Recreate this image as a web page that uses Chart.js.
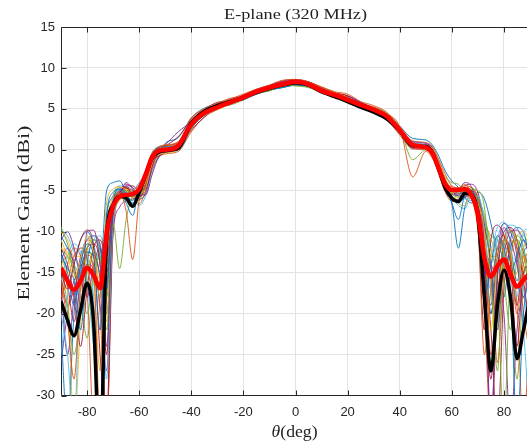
<!DOCTYPE html>
<html>
<head>
<meta charset="utf-8">
<script src="https://cdn.jsdelivr.net/npm/chart.js@4"></script>
<style>
  html, body { margin: 0; padding: 0; background: #fff; overflow: hidden; }
  canvas { display: block; }
</style>
</head>
<body>
<canvas id="chart" width="531" height="445"></canvas>
<script>
// Angles (deg) shared by every curve
const angles = [-90,-87.5,-85,-82.5,-80,-77.5,-75,-72.5,-70,-67.5,-65,-62.5,-60,-57.5,-55,-52.5,-50,
  -45,-40,-35,-30,-25,-20,-15,-10,-5,0,5,10,15,20,25,30,35,40,45,
  50,52.5,55,57.5,60,62.5,65,67.5,70,72.5,75,77.5,80,82.5,85,87.5,90];
const xTicks = [-80,-60,-40,-20,0,20,40,60,80];
const yTicks = [-30,-25,-20,-15,-10,-5,0,5,10,15];

// Thick red curve (average) and thick black curve
const meanGain = [-14.4,-16.0,-17.1,-16.0,-14.4,-15.3,-16.9,-10.2,-6.9,-5.7,-5.5,-5.4,-4.8,-3.0,-0.9,-0.1,0.0,
  0.5,3.1,4.5,5.2,5.8,6.4,7.1,7.6,8.0,8.3,8.0,7.2,6.7,6.1,5.5,4.9,4.1,2.4,0.6,
  0.3,-0.4,-2.3,-4.2,-4.9,-4.9,-4.8,-5.5,-7.8,-13.2,-15.5,-14.2,-13.4,-15.2,-16.7,-15.9,-15.0];
const simGain = [-18.5,-20.8,-22.7,-19.6,-16.3,-21.0,-38.0,-10.8,-6.7,-5.7,-5.9,-6.9,-5.2,-3.1,-1.0,-0.3,-0.1,
  0.2,3.3,4.7,5.4,5.9,6.4,7.0,7.5,7.9,8.2,7.9,7.1,6.5,5.9,5.2,4.6,3.8,2.3,0.5,
  0.4,-0.3,-2.4,-4.7,-5.9,-6.3,-5.3,-5.5,-8.0,-18.0,-27.0,-19.0,-14.7,-18.0,-25.5,-22.0,-18.0];

// Thin curves, one per element
const el01 = [-12.5,-15,-19,-14,-11.5,-13,-22,-8,-5.2,-4.8,-6.5,-8,-4.5,-3,-0.5,0.2,0.1,
  0.0,2.6,4.3,5.0,5.9,6.1,7.3,7.4,8.1,8.0,7.8,7.3,6.4,6.0,5.7,4.6,3.8,2.0,0.3,
  0.4,-0.6,-2.8,-4.5,-6.5,-8.5,-5.5,-5.0,-8,-18,-14,-10.5,-12,-15,-13,-11,-12.5];
const el02 = [-16,-21,-28,-17,-12.8,-14.5,-33,-12,-6.3,-5.4,-7.5,-13.4,-6,-3.5,-1.2,0.3,0.5,
  0.8,3.8,4.9,5.6,6.2,6.8,7.4,7.9,8.5,8.6,8.3,7.6,7.0,6.4,5.6,5.2,4.4,2.8,-3.3,
  -0.2,-1.0,-2.5,-4.0,-4.5,-4.8,-4.2,-5.5,-9,-25,-17,-12,-10.5,-13,-20,-14,-12];
const el03 = [-11,-13,-15.5,-13.5,-10.5,-12.5,-18,-6.5,-4.8,-4.5,-4.9,-5.8,-5.5,-4.6,-1.5,-0.5,-0.4,
  0.1,2.5,4.6,5.0,5.6,6.3,6.9,7.5,7.8,8.2,8.1,7.4,6.9,6.4,5.4,5.1,4.3,2.5,0.8,
  0.5,0.2,-1.5,-3.5,-5.0,-6.5,-6.8,-5.2,-6.5,-10,-22,-13.5,-11,-12.5,-17,-12,-11];
const el04 = [-13.5,-12,-14,-19,-10,-9.8,-14,-24,-7.5,-5.5,-4,-4.8,-6,-5.3,-2,-0.2,0.6,
  2.2,3.4,4.7,5.6,5.9,6.6,7.0,7.8,8.3,8.5,8.2,7.5,6.6,6.5,5.8,5.0,4.2,2.6,1.0,
  0.8,0.0,-2.0,-4.5,-5.5,-5.0,-4.0,-4.5,-7.0,-12,-34,-16,-9.5,-11,-14,-18,-13];
const el05 = [-9.4,-11.5,-15,-16,-12,-11,-13,-20,-9,-14.5,-8.5,-5.5,-4.8,-3.8,-1.0,0.0,0.2,
  0.3,2.9,4.2,5.3,5.5,6.1,6.9,7.2,7.9,7.8,7.6,7.0,6.6,6.2,5.6,5.2,4.5,2.6,-1.2,
  0.0,-0.5,-2.0,-3.3,-4.0,-4.2,-5.0,-4.8,-5.0,-7.0,-16,-27,-12,-10,-11,-14,-16];
const el06 = [-20,-25,-34,-14,-11,-10.5,-13,-28,-9,-6.0,-5.5,-5.0,-4.0,-2.8,-0.4,0.1,-0.2,
  0.2,3.2,4.5,5.4,6.1,6.6,7.2,7.6,7.9,8.1,7.7,7.0,6.8,6.1,5.3,5.0,4.3,2.5,0.9,
  0.6,0.1,-1.8,-3.8,-4.8,-5.5,-6.0,-6.2,-5.6,-8.5,-12,-9.5,-8.8,-11.5,-18,-10,-9.6];
const el07 = [-15,-17,-14,-11,-9.8,-12,-25,-33,-8,-5.2,-4.6,-5.5,-5.8,-4.4,-1.4,-0.8,-0.3,
  0.2,2.4,4.0,5.3,5.7,6.4,7.3,7.7,8.2,8.3,8.1,7.3,6.5,6.3,5.5,4.8,4.0,2.1,0.2,
  0.2,-0.3,-2.6,-4.5,-5.8,-6.2,-5.6,-5.0,-9.5,-22,-11,-9.2,-10.5,-14,-24,-15,-14];
const el08 = [-13,-14.5,-16,-22,-14,-11,-12,-17,-6.5,-4.8,-5.3,-6.6,-5.2,-3.2,-0.7,0.3,0.4,
  0.7,3.3,4.8,5.2,5.6,6.3,6.8,7.3,7.6,7.9,7.7,6.9,6.6,5.9,5.3,4.7,3.9,2.3,0.7,
  0.6,-0.2,-2.0,-4.0,-6.5,-12.0,-7.0,-5.5,-6.5,-14,-19,-12,-13.5,-17,-34,-20,-15];
const el09 = [-18,-16,-13,-12,-13.5,-21,-34,-14,-7,-5.0,-5.7,-5.0,-4.2,-2.5,-0.3,0.4,0.6,
  1.0,3.9,5.0,5.7,6.3,6.6,7.2,7.6,8.3,8.4,8.2,7.7,7.1,6.8,5.9,5.4,4.6,2.9,1.1,
  0.9,0.4,-1.2,-3.0,-4.4,-4.6,-4.4,-4.6,-6.0,-11,-25,-18,-11,-9.8,-12,-20,-25];
const el10 = [-12,-12.5,-14.5,-17,-15,-13,-16,-9,-5.6,-4.6,-4.8,-5.0,-4.8,-4.0,-1.8,-0.6,-0.1,
  0.0,2.7,4.4,4.9,5.7,6.2,7.0,7.4,7.8,8.1,8.0,7.2,6.8,6.2,5.4,4.9,4.1,2.2,0.4,
  0.2,-0.4,-2.6,-4.6,-5.2,-5.1,-5.0,-5.8,-8.0,-16,-13,-10.5,-12,-16,-15,-13,-14];
const el11 = [-11,-10,-12,-15.5,-18,-14,-12,-15,-6.8,-5.0,-4.2,-4.6,-5.5,-5.5,-3.0,-0.8,0.0,
  0.5,3.0,4.4,5.4,5.8,6.5,7.2,7.7,8.1,8.4,8.1,7.5,6.9,6.4,5.6,5.0,4.2,2.4,0.6,
  0.7,0.3,-1.4,-3.6,-5.2,-5.6,-4.4,-4.2,-5.2,-9,-14,-22,-13,-10,-9.8,-11,-13];
const el12 = [-14,-19,-25,-20,-15,-12.5,-14,-22,-8,-5.4,-5.0,-5.5,-6.2,-3.5,-0.6,0.1,0.3,
  0.4,3.2,4.6,5.1,5.9,6.2,6.9,7.3,7.7,7.9,7.9,7.0,6.5,6.0,5.2,4.8,4.0,2.2,0.5,
  0.4,-0.1,-2.2,-4.4,-5.4,-5.8,-5.2,-4.8,-5.8,-8,-12,-17,-34,-14,-10.5,-12,-18];
const el13 = [-16,-13,-11.5,-12.5,-16,-24,-34,-11,-6.0,-4.9,-5.2,-5.6,-5.0,-3.0,-0.5,0.0,-0.1,
  0.3,2.9,4.6,5.2,5.5,6.4,7.1,7.5,7.9,8.1,7.9,7.1,6.9,6.1,5.6,4.8,4.1,2.3,0.6,
  0.5,-0.2,-2.0,-4.0,-5.0,-5.2,-5.4,-5.2,-6.5,-12,-14,-11,-11.5,-13,-14,-22,-34];
const el14 = [-12,-14,-18,-24,-17,-12,-11,-13,-7.0,-5.6,-4.4,-4.4,-5.0,-4.8,-2.0,-0.4,0.4,
  1.6,3.6,4.9,5.8,6.0,6.7,7.4,7.9,8.4,8.6,8.3,7.6,6.9,6.6,5.8,5.1,4.2,2.6,0.9,
  0.6,0.1,-1.8,-4.0,-5.0,-5.0,-4.6,-5.0,-7.2,-18,-28,-15,-10,-9.5,-11,-16,-22];
const el15 = [-22,-34,-20,-15,-12.5,-13,-18,-8,-5.6,-4.6,-5.6,-6.2,-4.6,-3.4,-1.0,-0.2,0.0,
  0.1,2.7,4.3,5.1,5.7,6.1,6.8,7.3,7.6,7.9,7.8,7.0,6.6,6.2,5.5,5.0,4.3,2.4,0.4,
  0.2,-0.5,-2.4,-4.2,-5.6,-6.5,-5.8,-5.2,-6.2,-10,-20,-14,-11,-12,-16,-12.5,-11.5];
const el16 = [-14,-15.5,-17,-13.5,-11,-12,-20,-34,-9,-5.8,-4.9,-5.2,-5.4,-4.2,-1.2,-0.2,0.2,
  0.4,3.0,4.6,5.4,5.8,6.5,7.3,7.6,8.1,8.3,8.2,7.4,6.7,6.4,5.5,5.1,4.3,2.5,0.5,
  0.3,-0.2,-2.0,-3.9,-5.0,-5.4,-5.2,-4.9,-5.8,-9.5,-14,-26,-15,-11,-12,-15,-19];
const el17 = [-10,-11,-13,-13,-12,-15,-27,-10,-6.2,-5.3,-5.0,-5.3,-4.9,-3.6,-0.8,0.2,0.3,
  0.5,3.1,4.5,5.3,5.9,6.3,7.0,7.4,7.9,8.0,7.9,7.1,6.8,6.2,5.7,4.9,4.2,2.4,0.7,
  0.5,0.0,-1.7,-3.6,-4.8,-5.2,-5.0,-4.6,-5.6,-8.5,-11,-12.5,-15,-13,-10.5,-10,-11];
const el18 = [-17,-25,-18,-13,-11,-10.5,-11.5,-16,-7.5,-5.2,-4.5,-5.0,-5.6,-4.5,-1.6,-0.4,0.1,
  0.3,3.1,4.6,5.3,5.7,6.4,7.1,7.6,8.1,8.2,8.0,7.3,6.6,6.3,5.4,5.0,4.1,2.3,0.5,
  0.4,-0.1,-2.1,-4.1,-5.2,-5.4,-5.1,-5.0,-6.8,-14,-34,-14,-9,-10,-13,-21,-18];
const el19 = [-12,-13,-14,-16,-20,-15,-13,-18,-7,-5.2,-5.3,-5.8,-4.4,-2.6,-0.4,0.2,0.3,
  0.5,3.2,4.7,5.4,5.8,6.2,6.9,7.2,7.8,7.9,7.7,7.1,6.7,6.2,5.6,5.0,4.2,2.5,0.7,
  0.4,-0.3,-2.2,-4.0,-4.9,-5.0,-5.2,-5.6,-6.2,-9,-13,-13,-16,-22,-13,-10.5,-12];
const el20 = [-25,-18,-14,-12,-13,-18,-34,-13,-6.4,-5.0,-5.1,-5.4,-5.1,-3.8,-1.1,-0.1,0.0,
  0.2,2.8,4.3,5.2,5.9,6.3,7.1,7.5,7.8,8.1,7.8,7.1,6.6,6.1,5.3,4.8,4.0,2.2,0.4,
  0.3,-0.4,-2.4,-4.3,-5.3,-5.6,-5.4,-5.2,-6.6,-13,-17,-11,-9,-9.6,-12,-17,-24];
const el21 = [-14.5,-16.5,-21,-16,-12,-11.5,-14,-25,-8.5,-5.6,-4.7,-5.0,-5.2,-3.9,-0.9,0.0,0.5,
  0.9,3.5,4.8,5.6,6.1,6.6,7.3,7.8,8.3,8.5,8.3,7.6,7.0,6.6,5.7,5.2,4.4,2.7,0.8,
  0.6,0.2,-1.6,-3.8,-5.0,-5.6,-5.8,-5.4,-7.0,-15,-20,-13,-11,-13,-19,-13,-14];
const el22 = [-10.5,-12,-13.5,-11,-10,-11.5,-15,-5,-4.0,-3.8,-5.2,-6.5,-5.8,-4,-1.8,-0.5,0.8,
  1.5,3.9,5.1,5.6,6.0,6.5,7.2,7.7,8.2,8.4,8.1,7.4,6.9,6.3,5.6,5.0,4.4,2.9,1.4,
  1.2,0.6,-0.8,-2.6,-3.8,-4.6,-5.8,-6.5,-5.2,-6,-9,-13,-18,-11,-9.5,-10,-14];
const el23 = [-19,-14,-12,-13,-17,-34,-36,-18,-7.8,-5.6,-5.0,-5.7,-6.6,-5.0,-2.4,-0.9,-0.5,
  -0.2,2.2,4.0,4.9,5.6,6.2,6.9,7.4,7.8,8.0,7.8,7.0,6.5,6.0,5.3,4.7,3.8,1.8,0.1,
  0.0,-0.8,-3.0,-5.2,-6.3,-6.0,-5.6,-6.0,-9.8,-20,-34,-19,-12,-12.5,-19,-34,-20];
const el24 = [-13,-17,-34,-21,-12.5,-10.5,-12,-21,-8.8,-6.2,-5.6,-4.8,-4.4,-3.3,-0.6,0.3,0.4,
  0.6,3.4,4.7,5.5,5.8,6.5,7.2,7.6,8.0,8.3,8.0,7.3,6.7,6.2,5.5,5.0,4.2,2.5,0.6,
  0.5,0.0,-1.9,-3.9,-5.1,-5.3,-5.0,-5.3,-6.4,-11,-16,-20,-14,-11.5,-11,-13,-17];
const el25 = [-26,-20,-16,-15,-14,-14.5,-19,-27,-10,-7.0,-6.2,-6.0,-5.4,-3.7,-1.0,0.1,0.2,
  0.4,3.0,4.5,5.3,5.8,6.4,7.1,7.6,8.0,8.3,8.0,7.2,6.7,6.1,5.5,4.9,4.1,2.4,0.6,
  0.3,-0.3,-2.2,-4.2,-5.0,-5.0,-5.2,-5.8,-7.5,-12,-14,-16,-20,-34,-22,-18,-20];
const el26 = [-14,-13,-15,-18,-23,-16,-12.5,-14,-6.6,-5.0,-4.6,-5.2,-5.7,-4.9,-2.2,-0.6,0.2,
  0.6,3.1,4.5,5.2,5.7,6.4,7.0,7.5,8.0,8.2,8.0,7.2,6.6,6.1,5.4,4.9,4.1,2.3,0.6,
  0.4,-0.2,-2.3,-4.3,-5.4,-5.6,-5.5,-5.1,-6.2,-8.8,-10.5,-11,-13,-18,-28,-16,-12];
const el27 = [-9.8,-10.5,-12.5,-15,-13,-11,-10.5,-12.5,-5.8,-4.4,-4.6,-5.8,-6.8,-5.6,-2.6,-1.0,-0.3,
  0.0,2.6,4.2,5.0,5.7,6.3,7.0,7.5,7.9,8.1,7.9,7.2,6.7,6.1,5.4,4.8,4.0,2.2,0.5,
  0.3,-0.3,-2.4,-4.6,-5.8,-6.8,-7.2,-5.6,-5.8,-9.5,-17,-21,-11,-9.2,-9.5,-12,-15];
const el28 = [-15.5,-19,-17,-14.5,-12.5,-13,-16,-34,-10,-5.9,-5.0,-5.0,-5.2,-4.0,-1.3,-0.3,0.1,
  0.3,3.0,4.5,5.2,5.8,6.4,7.1,7.6,8.0,8.2,7.9,7.2,6.7,6.1,5.5,4.9,4.1,2.4,0.6,
  0.4,-0.1,-2.0,-4.0,-5.0,-5.1,-4.9,-5.2,-6.8,-13.5,-22,-34,-17,-12,-11,-12.5,-15];

const elementSeries = [el01, el02, el03, el04, el05, el06, el07, el08, el09, el10, el11, el12, el13, el14,
  el15, el16, el17, el18, el19, el20, el21, el22, el23, el24, el25, el26, el27, el28];

// MATLAB default colour order
const lineColors = ['#0072BD', '#D95319', '#EDB120', '#7E2F8E', '#77AC30', '#4DBEEE', '#A2142F'];

function toPoints(vals) {
  return angles.map((a, i) => ({ x: a, y: vals[i] }));
}

const serifFont = '"Liberation Serif", "Times New Roman", serif';

// draw serif text at a given size, stretched sideways to the wanted width
function drawStretched(ctx, parts, size, width) {
  let total = 0;
  parts.forEach(p => {
    ctx.font = (p.italic ? 'italic ' : '') + size + 'px ' + serifFont;
    p.w = ctx.measureText(p.text).width;
    total += p.w;
  });
  ctx.scale(width / total, 1);
  let x = -total / 2;
  parts.forEach(p => {
    ctx.font = (p.italic ? 'italic ' : '') + size + 'px ' + serifFont;
    ctx.fillText(p.text, x, 0);
    x += p.w;
  });
}

// Box, inward ticks and the text around the axes
const matlabFrame = {
  id: 'matlabFrame',
  beforeDatasetsDraw(chart) {
    const { ctx, chartArea: a, scales: { x, y } } = chart;
    const L = Math.round(a.left) + 0.5, T = Math.round(a.top) + 0.5, B = Math.round(a.bottom) - 0.5;
    ctx.save();
    ctx.strokeStyle = '#262626';
    ctx.lineWidth = 1;
    ctx.beginPath();
    ctx.moveTo(L, T); ctx.lineTo(a.right, T);
    ctx.moveTo(L, T); ctx.lineTo(L, B); ctx.lineTo(a.right, B);
    xTicks.forEach(v => {
      const px = Math.round(x.getPixelForValue(v)) + 0.5;
      ctx.moveTo(px, B); ctx.lineTo(px, B - 5);
      ctx.moveTo(px, T); ctx.lineTo(px, T + 5);
    });
    yTicks.forEach(v => {
      const py = Math.round(y.getPixelForValue(v)) + 0.5;
      ctx.moveTo(L, py); ctx.lineTo(L + 5, py);
    });
    ctx.stroke();
    ctx.restore();
  },
  afterDraw(chart) {
    const { ctx } = chart;
    ctx.fillStyle = '#1f1f1f';
    ctx.textAlign = 'left';
    ctx.textBaseline = 'alphabetic';

    // title
    ctx.save();
    ctx.translate(295.5, 18.5);
    drawStretched(ctx, [{ text: 'E-plane (320 MHz)' }], 15, 143);
    ctx.restore();

    // y label
    ctx.save();
    ctx.translate(28.5, 213);
    ctx.rotate(-Math.PI / 2);
    drawStretched(ctx, [{ text: 'Element Gain (dBi)' }], 16.5, 175);
    ctx.restore();

    // x label: italic theta followed by (deg)
    ctx.save();
    ctx.translate(294.6, 437);
    drawStretched(ctx, [{ text: '\u03b8', italic: true }, { text: '(deg)' }], 16.5, 46);
    ctx.restore();
  }
};

const datasets = [
  { data: toPoints(meanGain), borderColor: '#ff0000', borderWidth: 4.5 },
  { data: toPoints(simGain), borderColor: '#000000', borderWidth: 3.5 }
];
elementSeries.forEach((vals, i) => {
  datasets.push({ data: toPoints(vals), borderColor: lineColors[i % lineColors.length], borderWidth: 0.9 });
});
datasets.forEach(d => {
  d.pointRadius = 0;
  d.fill = false;
  d.cubicInterpolationMode = 'monotone';
});

const tickFont = { family: '"Liberation Sans", Arial, sans-serif', size: 13 };

new Chart(document.getElementById('chart'), {
  type: 'line',
  data: { datasets },
  options: {
    responsive: false,
    animation: false,
    layout: { padding: { top: 27, right: 1, left: 0, bottom: 0 } },
    plugins: { legend: { display: false }, tooltip: { enabled: false } },
    scales: {
      x: {
        type: 'linear',
        min: -90,
        max: 90,
        afterBuildTicks: s => { s.ticks = xTicks.map(v => ({ value: v })); },
        afterFit: s => { s.height = 49.5; },
        ticks: { font: tickFont, color: '#262626', padding: 9, maxRotation: 0 },
        grid: { color: '#e3e3e3', drawTicks: false },
        border: { display: false }
      },
      y: {
        min: -30,
        max: 15,
        afterBuildTicks: s => { s.ticks = yTicks.map(v => ({ value: v })); },
        afterFit: s => { s.width = 61; },
        ticks: { font: tickFont, color: '#262626', padding: 6 },
        grid: { color: '#e3e3e3', drawTicks: false },
        border: { display: false }
      }
    }
  },
  plugins: [matlabFrame]
});
</script>
</body>
</html>
